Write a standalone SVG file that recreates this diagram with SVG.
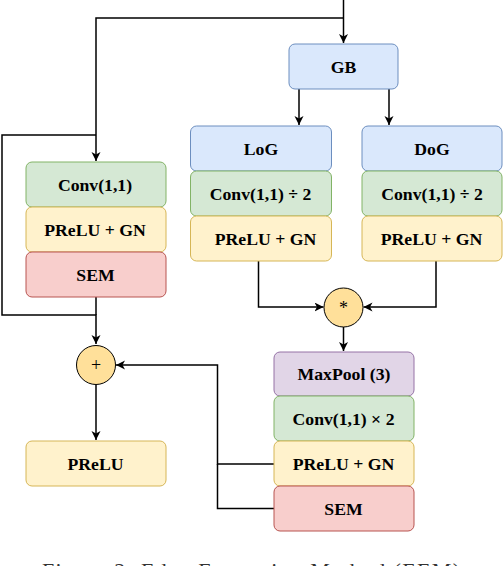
<svg xmlns="http://www.w3.org/2000/svg" width="504" height="566" viewBox="0 0 504 566">
<style>
.b{stroke-width:1;}
.blue{fill:#dae8fc;stroke:#6c8ebf;}
.green{fill:#d5e8d4;stroke:#82b366;}
.yellow{fill:#fff2cc;stroke:#d6b656;}
.red{fill:#f8cecc;stroke:#b85450;}
.purple{fill:#e1d5e7;stroke:#9673a6;}
.op{fill:#ffe09a;stroke:#000;stroke-width:1;}
text{font-family:"Liberation Serif","Times New Roman",serif;font-weight:bold;font-size:17.7px;text-anchor:middle;fill:#000;}
.sym{font-weight:normal;font-size:18px;}
.cap{font-weight:normal;font-size:22px;fill:#333;}
.c{fill:none;stroke:#000;stroke-width:1.5;}
</style>
<defs>
<marker id="ah" markerUnits="userSpaceOnUse" markerWidth="12" markerHeight="12" refX="9" refY="4.5" orient="auto">
<path d="M0,0 L9,4.5 L0,9 L2.5,4.5 z" fill="#000"/>
</marker>
</defs>
<g id="connectors">
<path class="c" d="M343.5,0 V43" marker-end="url(#ah)"/>
<path class="c" d="M343.5,18 H96 V161" marker-end="url(#ah)"/>
<path class="c" d="M96,135 H2 V315 H96 V344" marker-end="url(#ah)"/>
<path class="c" d="M96,297 V315"/>
<path class="c" d="M299,89 V125" marker-end="url(#ah)"/>
<path class="c" d="M389,89 V125" marker-end="url(#ah)"/>
<path class="c" d="M258.5,261 V307 H323.5" marker-end="url(#ah)"/>
<path class="c" d="M436,261 V307 H363.5" marker-end="url(#ah)"/>
<path class="c" d="M343.5,327 V351" marker-end="url(#ah)"/>
<path class="c" d="M96,385 V440" marker-end="url(#ah)"/>
<path class="c" d="M274,464 H217.5 V365 H116" marker-end="url(#ah)"/>
<path class="c" d="M274,508.5 H217.5 V464"/>
</g>
<g id="gb"><rect class="b blue" x="289" y="44" width="109" height="45" rx="6"/><text x="343.5" y="73">GB</text></g>
<g id="log"><rect class="b blue" x="190.5" y="126" width="141" height="45" rx="6"/><text x="261" y="155">LoG</text></g>
<g id="log-conv"><rect class="b green" x="190.5" y="171" width="141" height="45" rx="6"/><text x="260.5" y="199.5">Conv(1,1) ÷ 2</text></g>
<g id="log-prelu"><rect class="b yellow" x="190.5" y="216" width="141" height="45" rx="6"/><text x="265.5" y="244.5">PReLU + GN</text></g>
<g id="dog"><rect class="b blue" x="362" y="126" width="140" height="45" rx="6"/><text x="432" y="155">DoG</text></g>
<g id="dog-conv"><rect class="b green" x="362" y="171" width="140" height="45" rx="6"/><text x="432" y="199.5">Conv(1,1) ÷ 2</text></g>
<g id="dog-prelu"><rect class="b yellow" x="362" y="216" width="140" height="45" rx="6"/><text x="431.5" y="244.5">PReLU + GN</text></g>
<g id="left-conv"><rect class="b green" x="26" y="162" width="140" height="45" rx="6"/><text x="95" y="191">Conv(1,1)</text></g>
<g id="left-prelu"><rect class="b yellow" x="26" y="207" width="140" height="45" rx="6"/><text x="95" y="236">PReLU + GN</text></g>
<g id="left-sem"><rect class="b red" x="26" y="252" width="140" height="45" rx="6"/><text x="95.5" y="281">SEM</text></g>
<g id="mul"><circle class="op" cx="343.5" cy="307.5" r="19.5"/><text class="sym" x="343.5" y="314">*</text></g>
<g id="add"><circle class="op" cx="96" cy="365" r="19.5"/><text class="sym" x="96" y="371">+</text></g>
<g id="out-prelu"><rect class="b yellow" x="26" y="441" width="140" height="45" rx="6"/><text x="95.5" y="470">PReLU</text></g>
<g id="maxpool"><rect class="b purple" x="274" y="352" width="140" height="44" rx="6"/><text x="344" y="380">MaxPool (3)</text></g>
<g id="conv2"><rect class="b green" x="274" y="396" width="140" height="45" rx="6"/><text x="343.5" y="425">Conv(1,1) × 2</text></g>
<g id="prelu2"><rect class="b yellow" x="274" y="441" width="140" height="45" rx="6"/><text x="343.5" y="470">PReLU + GN</text></g>
<g id="sem2"><rect class="b red" x="274" y="486" width="140" height="45" rx="6"/><text x="343.5" y="515">SEM</text></g>
<text class="cap" x="251" y="578" textLength="418" lengthAdjust="spacing">Figure 2: Edge Extraction Method (EEM)</text>
</svg>
